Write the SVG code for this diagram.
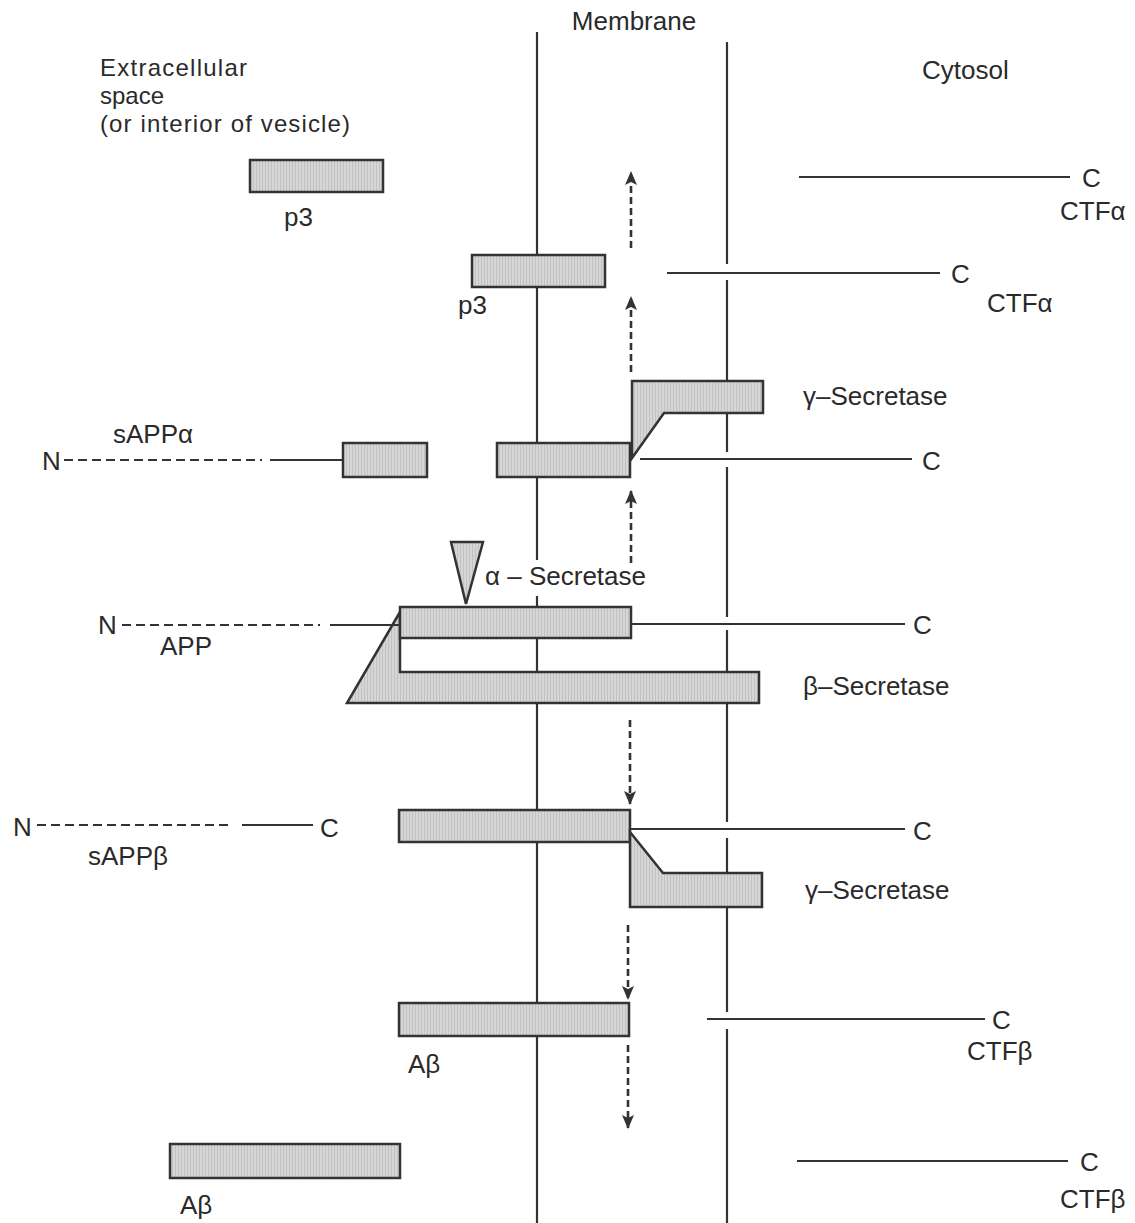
<svg xmlns="http://www.w3.org/2000/svg" width="1135" height="1223" viewBox="0 0 1135 1223">
  <defs>
    <!-- fine screen-tone used for the protein segments -->
    <pattern id="tone" width="3" height="3" patternUnits="userSpaceOnUse">
      <rect width="3" height="3" fill="#d6d6d6"/>
      <rect x="1" y="0" width="1" height="3" fill="#c2c2c2"/>
    </pattern>
    <marker id="head" viewBox="0 0 14 12" refX="13" refY="6" markerWidth="14" markerHeight="12" markerUnits="userSpaceOnUse" orient="auto">
      <path d="M0,0 L14,6 L0,12 L3,6 Z" fill="#333"/>
    </marker>
    <style>
      text { font-family: "Liberation Sans", Arial, sans-serif; font-size: 26px; fill: #2a2a2a; }
      .region { font-size: 24px; }
      .seg { fill: url(#tone); stroke: #333; stroke-width: 2.5; stroke-linejoin: miter; }
      .line { stroke: #333; stroke-width: 2.2; fill: none; }
      .dash { stroke: #333; stroke-width: 2.2; fill: none; stroke-dasharray: 9 5; }
      .arrow { stroke: #333; stroke-width: 2.6; fill: none; stroke-dasharray: 7 4; marker-end: url(#head); }
      .mem { stroke: #333; stroke-width: 2.2; fill: none; }
    </style>
  </defs>

  <rect width="1135" height="1223" fill="#fff"/>

  <!-- membrane bilayer boundaries -->
  <g id="membrane">
    <path class="mem" d="M537,32 V1223"/>
    <path class="mem" d="M727,42 V264 M727,280 V452 M727,467 V617 M727,630 V822 M727,838 V1012 M727,1029 V1223"/>
    <rect x="520" y="560" width="35" height="36" fill="#fff"/>
    <text x="634" y="30" text-anchor="middle">Membrane</text>
  </g>

  <g id="labels">
    <text class="region" x="100" y="76" textLength="147">Extracellular</text>
    <text class="region" x="100" y="104">space</text>
    <text class="region" x="100" y="132" textLength="250">(or interior of vesicle)</text>
    <text x="922" y="79">Cytosol</text>
  </g>

  <!-- released p3 -->
  <g id="p3-free">
    <rect class="seg" x="250" y="160" width="133" height="32"/>
    <text x="284" y="226">p3</text>
  </g>

  <g id="ctfa-free">
    <path class="line" d="M799,177 H1070"/>
    <text x="1082" y="187">C</text>
    <text x="1060" y="220">CTFα</text>
  </g>

  <g id="p3-membrane">
    <rect class="seg" x="472" y="255" width="133" height="32"/>
    <text x="458" y="314">p3</text>
  </g>

  <g id="ctfa-membrane">
    <path class="line" d="M667,273 H940"/>
    <text x="951" y="283">C</text>
    <text x="987" y="312">CTFα</text>
  </g>

  <g id="gamma-secretase-1">
    <path class="seg" d="M632,381 H763 V413 H664 L632,458 Z"/>
    <text x="803" y="405">γ–Secretase</text>
  </g>

  <g id="sapp-alpha">
    <path class="dash" d="M64,460 H262"/>
    <path class="line" d="M270,460 H343"/>
    <rect class="seg" x="343" y="443" width="84" height="34"/>
    <text x="42" y="470">N</text>
    <text x="113" y="443">sAPPα</text>
  </g>

  <g id="ctfa-cleaved">
    <rect class="seg" x="497" y="443" width="133" height="34"/>
    <path class="line" d="M640,459 H912"/>
    <text x="922" y="470">C</text>
  </g>

  <g id="alpha-secretase">
    <path class="seg" d="M451,542 H483 L466,604 Z"/>
    <rect x="484" y="560" width="170" height="30" fill="#fff"/>
    <text x="485" y="585">α – Secretase</text>
  </g>

  <g id="beta-secretase">
    <path class="seg" d="M400,612 V672 H759 V703 H347 Z"/>
    <text x="803" y="695">β–Secretase</text>
  </g>

  <g id="app">
    <path class="dash" d="M122,625 H320"/>
    <path class="line" d="M330,625 H400"/>
    <rect class="seg" x="400" y="607" width="231" height="31"/>
    <path class="line" d="M631,624 H905"/>
    <text x="98" y="634">N</text>
    <text x="160" y="655">APP</text>
    <text x="913" y="634">C</text>
  </g>

  <g id="sapp-beta">
    <path class="dash" d="M37,825 H232"/>
    <path class="line" d="M242,825 H313"/>
    <text x="13" y="836">N</text>
    <text x="320" y="837">C</text>
    <text x="88" y="865">sAPPβ</text>
  </g>

  <g id="ctfb-cleaved">
    <rect class="seg" x="399" y="810" width="231" height="32"/>
    <path class="line" d="M630,829 H905"/>
    <text x="913" y="840">C</text>
  </g>

  <g id="gamma-secretase-2">
    <path class="seg" d="M630,832 L663,873 H762 V907 H630 Z"/>
    <text x="805" y="899">γ–Secretase</text>
  </g>

  <g id="abeta-membrane">
    <rect class="seg" x="399" y="1003" width="230" height="33"/>
    <text x="408" y="1073">Aβ</text>
  </g>

  <g id="ctfb-membrane">
    <path class="line" d="M707,1019 H985"/>
    <text x="992" y="1029">C</text>
    <text x="967" y="1060">CTFβ</text>
  </g>

  <g id="abeta-free">
    <rect class="seg" x="170" y="1144" width="230" height="34"/>
    <text x="180" y="1214">Aβ</text>
  </g>

  <g id="ctfb-free">
    <path class="line" d="M797,1161 H1068"/>
    <text x="1080" y="1171">C</text>
    <text x="1060" y="1208">CTFβ</text>
  </g>

  <!-- processing steps -->
  <g id="connectors">
    <path class="arrow" d="M631,248 V172"/>
    <path class="arrow" d="M631,372 V297"/>
    <path class="arrow" d="M631,563 V491"/>
    <path class="arrow" d="M630,720 V804"/>
    <path class="arrow" d="M628,925 V999"/>
    <path class="arrow" d="M628,1045 V1128"/>
  </g>
</svg>
